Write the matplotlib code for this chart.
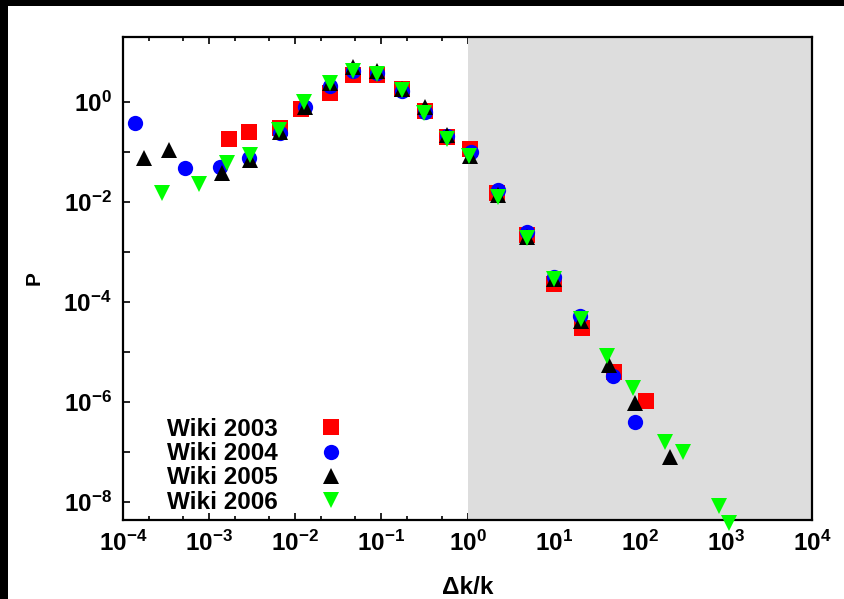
import numpy as np
import matplotlib.pyplot as plt
from matplotlib.patches import Rectangle
from matplotlib.ticker import FixedLocator, LogFormatterMathtext, NullFormatter

plt.rcParams['font.family'] = ['Liberation Sans', 'DejaVu Sans']
plt.rcParams['font.weight'] = 'bold'
plt.rcParams['axes.labelweight'] = 'bold'
plt.rcParams['mathtext.fontset'] = 'custom'
plt.rcParams['mathtext.rm'] = 'Liberation Sans:bold'
plt.rcParams['mathtext.it'] = 'Liberation Sans:bold'
plt.rcParams['mathtext.default'] = 'rm'

# Wiki 2003 (red squares)
x03 = [1.7e-3, 2.9e-3, 6.6e-3, 0.0118, 0.0252, 0.047, 0.090, 0.172, 0.32, 0.573,
       1.07, 2.2, 4.96, 10.2, 21.6, 49.6, 118]
y03 = [0.18, 0.244, 0.30, 0.71, 1.51, 3.42, 3.42, 1.77, 0.66, 0.194,
       0.113, 0.015, 0.00216, 2.26e-4, 2.9e-5, 4e-6, 1.03e-6]

# Wiki 2004 (blue circles)
x04 = [1.36e-4, 5.3e-4, 1.33e-3, 2.9e-3, 6.6e-3, 0.0129, 0.0252, 0.047, 0.090, 0.172,
       0.32, 0.573, 1.1, 2.28, 4.96, 10.2, 20.3, 48.3, 87]
y04 = [0.37, 0.047, 0.05, 0.074, 0.233, 0.76, 2.0, 4.17, 3.7, 1.6,
       0.63, 0.2, 0.1, 0.0171, 0.0025, 3.1e-4, 5.2e-5, 3.3e-6, 4e-7]

# Wiki 2005 (black triangles up)
x05 = [1.75e-4, 3.4e-4, 1.4e-3, 2.95e-3, 6.6e-3, 0.0129, 0.0252, 0.047, 0.090, 0.172,
       0.32, 0.573, 1.07, 2.28, 4.96, 10.2, 21, 43.4, 87, 222]
y05 = [0.074, 0.108, 0.037, 0.068, 0.25, 0.78, 2.3, 4.8, 4.0, 1.8,
       0.79, 0.216, 0.082, 0.0136, 0.002, 2.8e-4, 4.1e-5, 5.4e-6, 9.3e-7, 7.9e-8]

# Wiki 2006 (green triangles down)
x06 = [2.8e-4, 7.6e-4, 1.6e-3, 3.0e-3, 6.4e-3, 0.0127, 0.0252, 0.047, 0.090, 0.172,
       0.31, 0.573, 1.05, 2.28, 4.96, 10.2, 21, 41.5, 83.4, 194, 318, 825, 1080]
y06 = [0.0148, 0.022, 0.06, 0.086, 0.27, 1.0, 2.33, 4.0, 3.5, 1.7,
       0.59, 0.18, 0.083, 0.0126, 0.00186, 2.8e-4, 4.4e-5, 8.3e-6, 1.85e-6, 1.58e-7,
       9.7e-8, 8.2e-9, 3.8e-9]

series = [
    ("Wiki 2003", x03, y03, "s", "#ff0000"),
    ("Wiki 2004", x04, y04, "o", "#0000ff"),
    ("Wiki 2005", x05, y05, "^", "#000000"),
    ("Wiki 2006", x06, y06, "v", "#00ff00"),
]

fig = plt.figure(figsize=(8.44, 5.99), dpi=100)
ax = fig.add_axes([123 / 844, 1 - 520 / 599, 689 / 844, 483 / 599])

# black band at top/left of the image
fig.patches.append(Rectangle((0, 1 - 6 / 599), 1, 6 / 599, transform=fig.transFigure,
                             facecolor="black", edgecolor="none"))
fig.patches.append(Rectangle((0, 0), 7.5 / 844, 1, transform=fig.transFigure,
                             facecolor="black", edgecolor="none"))

ax.set_xscale("log")
ax.set_yscale("log")
ax.set_xlim(1e-4, 1e4)
ax.set_ylim(4.3e-9, 19.5)

ax.axvspan(1, 1e4, color="#dddddd", zorder=2.6, lw=0)

for label, xs, ys, m, c in series:
    ax.plot(xs, ys, linestyle="none", marker=m, color=c, markersize=11,
            markeredgewidth=0, label=label, zorder=5, clip_on=False)

ax.xaxis.set_major_locator(FixedLocator([10.0 ** k for k in range(-4, 5)]))
ax.xaxis.set_minor_locator(FixedLocator([m * 10.0 ** k for k in range(-4, 4) for m in (2, 5)]))
ax.xaxis.set_major_formatter(LogFormatterMathtext())
ax.xaxis.set_minor_formatter(NullFormatter())
ax.yaxis.set_major_locator(FixedLocator([10.0 ** k for k in range(-8, 1, 2)]))
ax.yaxis.set_minor_locator(FixedLocator([10.0 ** k for k in range(-7, 0, 2)]))
ax.yaxis.set_major_formatter(LogFormatterMathtext())
ax.yaxis.set_minor_formatter(NullFormatter())

ax.tick_params(axis="both", which="both", direction="in", top=True, right=False,
               width=1.2, labelsize=17.5)
ax.tick_params(axis="both", which="major", length=5)
ax.tick_params(axis="x", which="minor", length=3)
ax.tick_params(axis="y", which="minor", length=5)
ax.tick_params(axis="x", pad=8)
ax.tick_params(axis="y", pad=8)

for s in ax.spines.values():
    s.set_linewidth(1.6)
    s.set_zorder(4)

ax.set_xlabel("Δk/k", fontsize=17.5, fontweight="bold", labelpad=14)
ax.set_ylabel("P", fontsize=15, fontweight="bold", labelpad=14)

ax.legend(loc="lower left", bbox_to_anchor=(0.036, -0.027), frameon=False, markerfirst=False,
          fontsize=17.5, handletextpad=1.2, labelspacing=0.05, borderpad=0.3)

fig.savefig("out.png", dpi=100)
